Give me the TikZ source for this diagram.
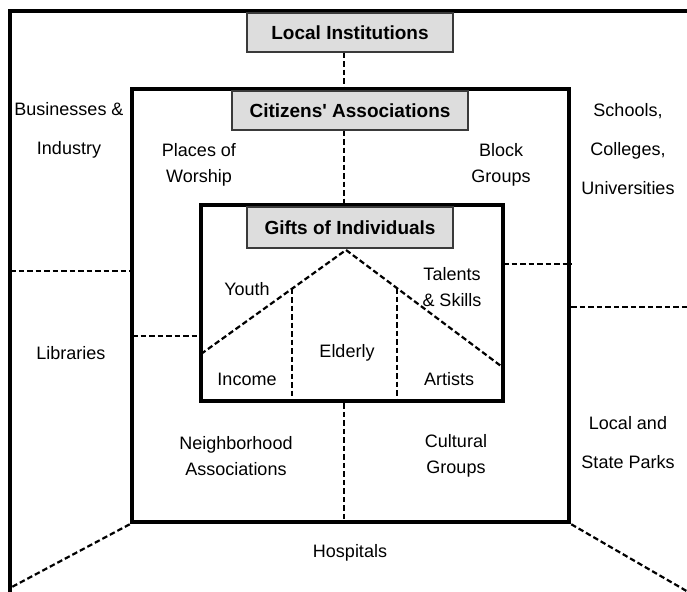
\documentclass[tikz,border=0pt]{standalone}
\usepackage{fontspec}
\setmainfont{Liberation Sans}
\usetikzlibrary{calc,positioning}
\definecolor{ink}{HTML}{000000}
\definecolor{tabfill}{HTML}{DDDDDD}
\definecolor{tabedge}{HTML}{3A3A3A}
\tikzset{
  ring/.style={draw=ink,line width=4.5pt,inner sep=0pt},
  tab/.style={draw=tabedge,fill=tabfill,line width=1.2pt,inner sep=0pt,
    font=\bfseries\fontsize{19}{22}\selectfont},
  link/.style={draw=ink,line width=2.2pt,dash pattern=on 5.5pt off 3pt},
  lbl/.style={font=\fontsize{18}{26}\selectfont,align=center,inner sep=0pt},
  widelbl/.style={lbl,font=\fontsize{18}{39}\selectfont}
}

\begin{document}
\begin{tikzpicture}[x=1pt,y=-1pt]
  \clip (0,0) rectangle (687,591);
  % three rings: community, associations, individuals
  \draw[ring] (10,600) |- (700,11);
  \node[ring,minimum width=437pt,minimum height=433pt] (assoc) at (350.5,305.5) {};
  \node[ring,minimum width=302pt,minimum height=196pt] (indiv) at (352,303) {};

  % grey title tabs
  \node[tab,minimum width=206pt,minimum height=39pt] (inst) at (350,32.5) {Local Institutions};
  \node[tab,minimum width=236pt,minimum height=39pt] (citz) at (350,110.5) {Citizens\textquotesingle\ Associations};
  \node[tab,minimum width=206pt,minimum height=41pt] (gifts) at (350,227.5) {Gifts of Individuals};

  % dashed dividers
  \coordinate (spine) at (344,0);
  \draw[link] (inst.south -| spine) -- (assoc.north -| spine);
  \draw[link] (citz.south -| spine) -- (indiv.north -| spine);
  \draw[link] (indiv.south -| spine) -- (assoc.south -| spine);
  \coordinate (lw1) at (10,271);
  \coordinate (lw2) at (132,336);
  \coordinate (re1) at (503,264);
  \coordinate (re2) at (687,307);
  \draw[link] (lw1) -- (lw1 -| assoc.west);
  \draw[link] (lw2) -- (lw2 -| indiv.west);
  \draw[link] (re1) -- (re1 -| assoc.east);
  \draw[link] (re2 -| assoc.east) -- (re2);
  \coordinate (cornerL) at (10,588);
  \coordinate (cornerR) at (690,593);
  \draw[link] (assoc.south west) -- (cornerL);
  \draw[link] (assoc.south east) -- (cornerR);

  % roof inside the inner ring
  \coordinate (eaveL) at (201,354);
  \coordinate (apex) at (346,250);
  \coordinate (eaveR) at (501,366);
  \draw[link] (eaveL) -- (apex) -- (eaveR);
  \draw[link] ($(eaveL)!0.628!(apex)$) coordinate (postL) -- (postL |- indiv.south);
  \draw[link] ($(apex)!0.329!(eaveR)$) coordinate (postR) -- (postR |- indiv.south);

  % outer ring
  \node[widelbl] (biz) at (69,130) {Businesses \&\\Industry};
  \node[lbl] (lib) at (71,353) {Libraries};
  \node[widelbl] (school) at (628,149) {Schools,\\Colleges,\\Universities};
  \node[widelbl] (parks) at (628,443) {Local and\\State Parks};
  \node[lbl] (hosp) at (350,553) {Hospitals};
  % middle ring
  \node[lbl] (worship) at (199,165) {Places of\\Worship};
  \node[lbl] (block) at (501,165) {Block\\Groups};
  \node[lbl] (neigh) at (236,456) {Neighborhood\\Associations};
  \node[lbl] (cult) at (456,456) {Cultural\\Groups};
  % inner ring
  \node[lbl] (youth) at (247,289) {Youth};
  \node[lbl] (talent) at (452,287) {Talents\\\& Skills};
  \node[lbl] (elder) at (347,353) {Elderly};
  \node[lbl] (income) at (247,379) {Income};
  \node[lbl] (artist) at (449,379) {Artists};
\end{tikzpicture}
\end{document}
